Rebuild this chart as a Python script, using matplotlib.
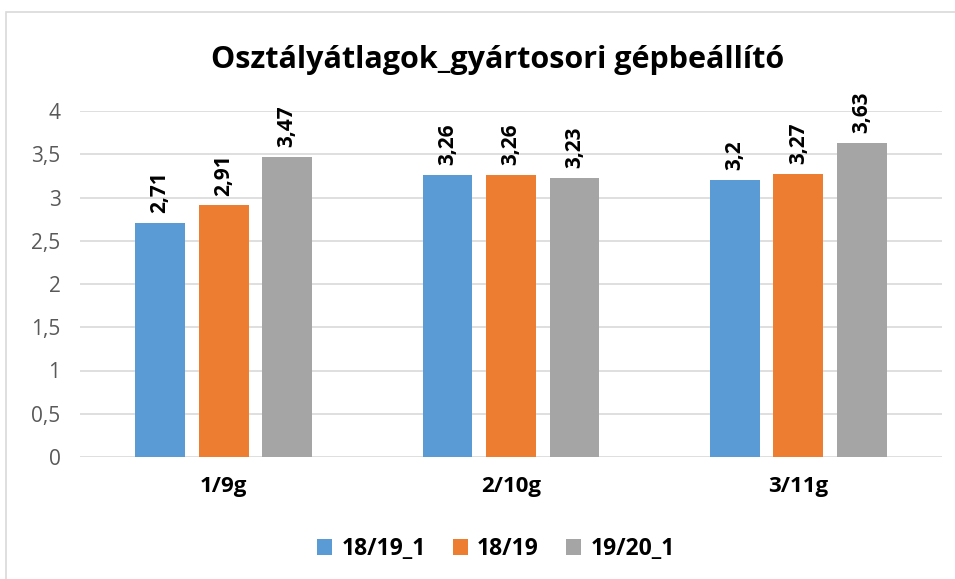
import numpy as np
import matplotlib.pyplot as plt
from matplotlib.patches import Rectangle

categories = ['1/9g', '2/10g', '3/11g']
series_names = ['18/19_1', '18/19', '19/20_1']
v_18_19_1 = [2.71, 3.26, 3.2]
v_18_19 = [2.91, 3.26, 3.27]
v_19_20_1 = [3.47, 3.23, 3.63]
colors = ['#5B9BD5', '#ED7D31', '#A5A5A5']

plt.rcParams['font.family'] = ['Open Sans', 'DejaVu Sans']

fig = plt.figure(figsize=(9.55, 5.79), dpi=100)
# chart border
fig.patches.append(Rectangle((6 / 955, -0.01), 1.0, 1 - 12 / 579 + 0.01,
                             transform=fig.transFigure, fill=False,
                             edgecolor='#D9D9D9', linewidth=1.2))

ax = fig.add_axes([80 / 955, 1 - 457 / 579, 862 / 955, 346 / 579])
x = np.arange(len(categories))
width = 0.174
step = 0.221
all_vals = [v_18_19_1, v_18_19, v_19_20_1]

for i, (name, vals, col) in enumerate(zip(series_names, all_vals, colors)):
    pos = x + (i - 1) * step
    ax.bar(pos, vals, width, color=col, label=name, zorder=3)
    for p, v in zip(pos, vals):
        ax.annotate(f'{v:g}'.replace('.', ','), (p, v), xytext=(0, 7),
                    textcoords='offset points', rotation=90, ha='center',
                    va='bottom', fontsize=15, fontweight='bold', color='black')

ax.set_xlim(-0.5, 2.5)
ax.set_ylim(0, 4)
ax.set_yticks(np.arange(0, 4.01, 0.5))
ax.set_yticklabels([f'{t:g}'.replace('.', ',') for t in np.arange(0, 4.01, 0.5)],
                   fontsize=15, color='#595959')
ax.set_xticks(x)
ax.set_xticklabels(categories, fontsize=16, fontweight='bold', color='black')
ax.tick_params(axis='both', length=0)
ax.tick_params(axis='x', pad=14)
ax.tick_params(axis='y', pad=14)
ax.grid(axis='y', color='#D9D9D9', linewidth=1.2, zorder=0)
for s in ax.spines.values():
    s.set_visible(False)

fig.text(498 / 955, 1 - 60 / 579, 'Osztályátlagok_gyártosori gépbeállító',
         ha='center', va='center', fontsize=22, fontweight='bold')

leg = fig.legend(loc='center', bbox_to_anchor=(496 / 955, 1 - 549 / 579), ncol=3,
                 frameon=False, prop={'size': 16.5, 'weight': 'bold'},
                 handlelength=0.65, handleheight=0.65, columnspacing=1.2,
                 handletextpad=0.4)

fig.savefig('out.png', dpi=100)
